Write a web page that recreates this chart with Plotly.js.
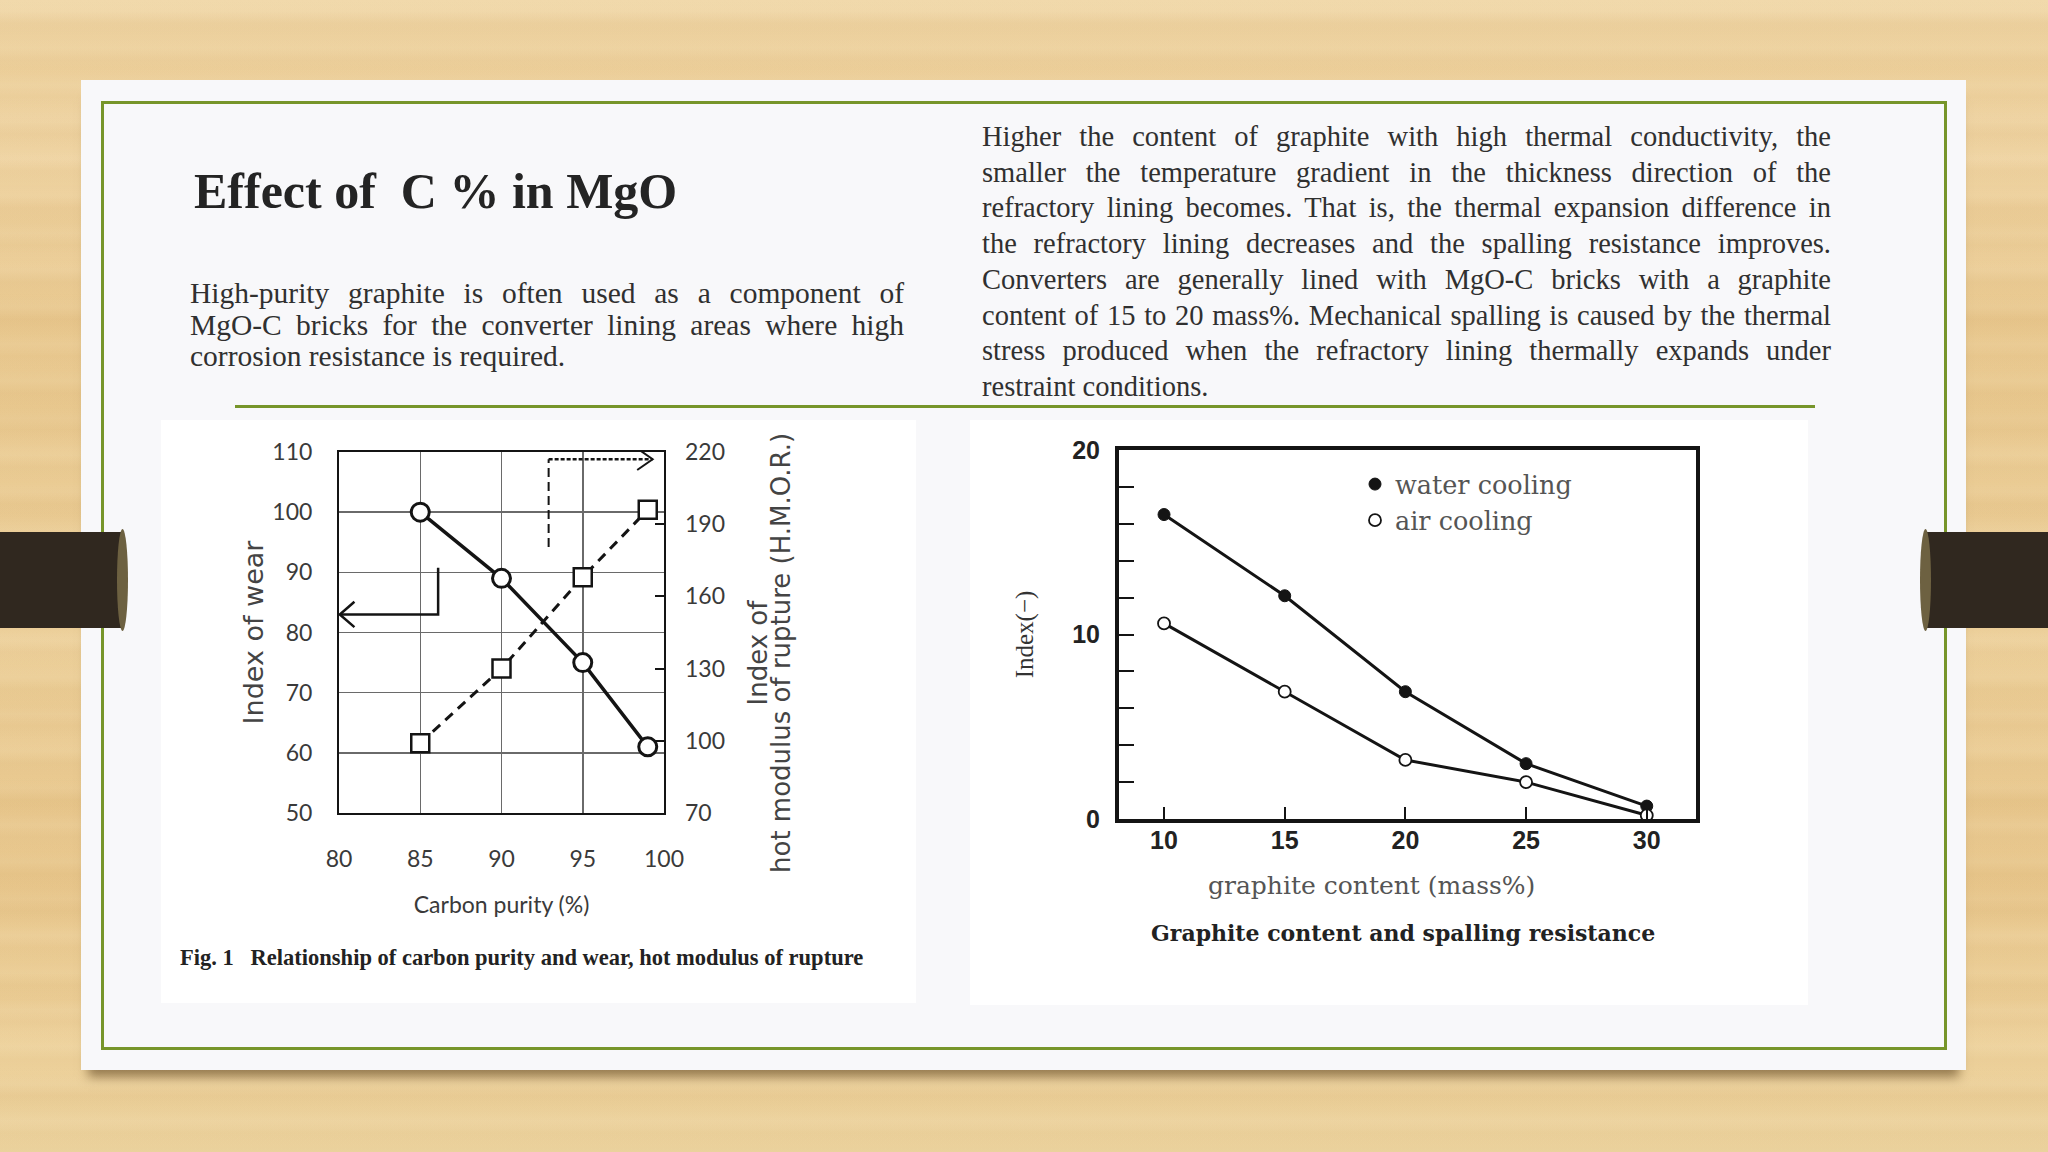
<!DOCTYPE html>
<html>
<head>
<meta charset="utf-8">
<script src="https://cdn.plot.ly/plotly-3.0.1.min.js"></script>
<style>
  html, body { margin:0; padding:0; }
  body {
    width:2048px; height:1152px; overflow:hidden; position:relative;
    background:
      repeating-linear-gradient(180deg, rgba(255,245,220,0.0) 0px, rgba(255,245,220,0.07) 11px, rgba(180,130,60,0.04) 23px, rgba(255,245,220,0.0) 37px),
      repeating-linear-gradient(180deg, rgba(200,150,80,0.0) 0px, rgba(200,150,80,0.05) 29px, rgba(255,240,210,0.05) 61px, rgba(200,150,80,0.0) 97px),
      linear-gradient(180deg, #f1d9ab 0%, #ebcd97 6%, #efd4a3 10%, #e8c78d 30%, #eccf99 55%, #e7c58a 75%, #edd19b 92%, #ead09a 100%);
    font-family: "Liberation Serif", "Times New Roman", serif;
  }
  .abs { position:absolute; }
  #card { left:81px; top:80px; width:1885px; height:990px; background:#f8f8fa;
          box-shadow: 0 14px 10px -7px rgba(80,55,20,0.55); }
  #frame { left:101px; top:101px; width:1846px; height:949px; box-sizing:border-box;
           border:3px solid #77952a; }
  #rule { left:235px; top:405px; width:1580px; height:3px; background:#77952a; }
  .imgbox { background:#ffffff; }
  .tab { background:#30281f; }
  .cap { background:#6d6141; border-radius:50%; }
  #title { left:194px; top:166px; font-size:50px; line-height:50px; font-weight:bold; color:#242424; white-space:nowrap; }
  #leftpara { left:190px; top:278px; width:714px; font-size:29.5px; line-height:31.7px; color:#303030; }
  #rightpara { left:982px; top:119px; width:849px; font-size:28.5px; line-height:35.7px; color:#303030; }
  .jl { text-align:justify; text-align-last:justify; }
  .ll { text-align:left; }
  #plot { left:0; top:0; width:2048px; height:1152px; }
</style>
</head>
<body>
<div id="card" class="abs"></div>
<div id="frame" class="abs"></div>
<div class="abs tab" style="left:0;top:532px;width:122px;height:96px;"></div>
<div class="abs cap" style="left:117px;top:529px;width:11px;height:102px;"></div>
<div class="abs tab" style="left:1926px;top:532px;width:122px;height:96px;"></div>
<div class="abs cap" style="left:1920px;top:529px;width:11px;height:102px;"></div>
<div id="rule" class="abs"></div>
<div class="abs imgbox" style="left:161px;top:420px;width:755px;height:583px;"></div>
<div class="abs imgbox" style="left:970px;top:420px;width:838px;height:585px;"></div>

<div id="title" class="abs">Effect of&nbsp; C % in MgO</div>
<div id="leftpara" class="abs">
  <div class="jl">High-purity graphite is often used as a component of</div>
  <div class="jl">MgO-C bricks for the converter lining areas where high</div>
  <div class="ll">corrosion resistance is required.</div>
</div>
<div id="rightpara" class="abs">
  <div class="jl">Higher the content of graphite with high thermal conductivity, the</div>
  <div class="jl">smaller the temperature gradient in the thickness direction of the</div>
  <div class="jl">refractory lining becomes. That is, the thermal expansion difference in</div>
  <div class="jl">the refractory lining decreases and the spalling resistance improves.</div>
  <div class="jl">Converters are generally lined with MgO-C bricks with a graphite</div>
  <div class="jl">content of 15 to 20 mass%. Mechanical spalling is caused by the thermal</div>
  <div class="jl">stress produced when the refractory lining thermally expands under</div>
  <div class="ll">restraint conditions.</div>
</div>

<div id="plot" class="abs"></div>

<script>
// ---- Fig. 1 : carbon purity vs wear / H.M.O.R. ----
const carbonPurity = [85, 90, 95, 99];
const wearIndex = [100, 89, 75, 61];
const hmorIndex = [99, 130, 168, 196];
const purityTicks = [80, 85, 90, 95, 100];
const wearTicks = [50, 60, 70, 80, 90, 100, 110];
const hmorTicks = [70, 100, 130, 160, 190, 220];
// guide arrows (data units): which axis each curve belongs to
const wearGuideX = [86.1, 86.1, 80.05];
const wearGuideY = [90.75, 83, 83];
const hmorGuideX = [92.9, 92.9, 99.3];
const hmorGuideY = [94.2, 108.8, 108.8];

// ---- Graphite content and spalling resistance ----
const graphiteContent = [10, 15, 20, 25, 30];
const waterCooling = [16.5, 12.1, 6.9, 3.0, 0.7];
const airCooling = [10.6, 6.9, 3.2, 2.0, 0.2];
const graphiteTicks = [10, 15, 20, 25, 30];
const indexTicks = [0, 2, 4, 6, 8, 10, 12, 14, 16, 18, 20];
const indexTickText = ['0', '', '', '', '', '10', '', '', '', '', '20'];

const W = 2048, H = 1152;
const px = v => v / W;
const py = v => 1 - v / H;

const ink = '#141414';

const traces = [
  {
    x: carbonPurity, y: wearIndex, xaxis: 'x', yaxis: 'y',
    type: 'scatter', mode: 'lines+markers', name: 'Index of wear', showlegend: false,
    line: { color: ink, width: 3.5 },
    marker: { symbol: 'circle', size: 18, color: '#ffffff', line: { color: ink, width: 3 } }
  },
  {
    x: carbonPurity, y: hmorIndex, xaxis: 'x', yaxis: 'y2',
    type: 'scatter', mode: 'lines+markers', name: 'H.M.O.R.', showlegend: false,
    line: { color: ink, width: 3, dash: '10px,7px' },
    marker: { symbol: 'square', size: 18, color: '#ffffff', line: { color: ink, width: 2.5 } }
  },
  {
    x: graphiteContent, y: waterCooling, xaxis: 'x3', yaxis: 'y3',
    type: 'scatter', mode: 'lines', name: 'water cooling', showlegend: false,
    line: { color: ink, width: 3 }
  },
  {
    x: graphiteContent, y: airCooling, xaxis: 'x3', yaxis: 'y3',
    type: 'scatter', mode: 'lines', name: 'air cooling', showlegend: false,
    line: { color: ink, width: 3 }
  },
  {
    x: graphiteContent, y: waterCooling, xaxis: 'x3', yaxis: 'y3',
    type: 'scatter', mode: 'markers', name: 'water cooling', showlegend: true,
    marker: { symbol: 'circle', size: 12, color: ink, line: { color: ink, width: 1 } }
  },
  {
    x: graphiteContent, y: airCooling, xaxis: 'x3', yaxis: 'y3',
    type: 'scatter', mode: 'markers', name: 'air cooling', showlegend: true,
    marker: { symbol: 'circle', size: 12, color: '#ffffff', line: { color: ink, width: 1.8 } }
  }
];

function pathFrom(xs, ys) {
  return xs.map((x, i) => (i ? 'L' : 'M') + x + ',' + ys[i]).join(' ');
}

const shapes = [
  { type: 'path', xref: 'x', yref: 'y', path: pathFrom(wearGuideX, wearGuideY),
    line: { color: ink, width: 2.5 } },
  { type: 'path', xref: 'x', yref: 'y',
    path: pathFrom([wearGuideX[2] + 0.9, wearGuideX[2], wearGuideX[2] + 0.9],
                   [wearGuideY[2] + 2.1, wearGuideY[2], wearGuideY[2] - 2.1]),
    line: { color: ink, width: 2.5 } },
  { type: 'path', xref: 'x', yref: 'y', path: pathFrom(hmorGuideX.slice(0, 2), hmorGuideY.slice(0, 2)),
    line: { color: ink, width: 2, dash: '9px,5px' } },
  { type: 'path', xref: 'x', yref: 'y', path: pathFrom(hmorGuideX.slice(1), hmorGuideY.slice(1)),
    line: { color: ink, width: 2.5, dash: '4px,2px' } },
  { type: 'path', xref: 'x', yref: 'y',
    path: pathFrom([hmorGuideX[2] - 0.95, hmorGuideX[2], hmorGuideX[2] - 0.95],
                   [hmorGuideY[2] + 1.8, hmorGuideY[2], hmorGuideY[2] - 1.8]),
    line: { color: ink, width: 2 } }
];

const tickGray = '#3a3a3a';
const sansTitle = { family: '"DejaVu Sans", sans-serif', size: 26, color: '#444444' };

const layout = {
  width: W, height: H,
  margin: { l: 0, r: 0, t: 0, b: 0, pad: 0 },
  paper_bgcolor: 'rgba(0,0,0,0)',
  plot_bgcolor: 'rgba(0,0,0,0)',
  showlegend: true,
  xaxis: {
    domain: [px(339), px(664)], anchor: 'y', range: [80, 100],
    tickmode: 'array', tickvals: purityTicks, ticks: '',
    showgrid: true, gridcolor: '#6a6a6a', gridwidth: 1.5, zeroline: false,
    showline: true, linecolor: ink, linewidth: 2, mirror: true,
    tickfont: { family: 'Lato, "Open Sans", sans-serif', size: 23, color: tickGray },
    ticklabelstandoff: 24, automargin: false,
    title: { text: 'Carbon purity (%)', standoff: 26,
             font: { family: 'Lato, "Open Sans", sans-serif', size: 23, color: tickGray } }
  },
  yaxis: {
    domain: [py(813), py(452)], anchor: 'x', range: [50, 110],
    tickmode: 'array', tickvals: wearTicks, ticks: '',
    showgrid: true, gridcolor: '#6a6a6a', gridwidth: 1.5, zeroline: false,
    showline: true, linecolor: ink, linewidth: 2, mirror: true,
    tickfont: { family: 'Lato, "Open Sans", sans-serif', size: 23, color: tickGray },
    ticklabelstandoff: 20, automargin: false,
    title: { text: 'Index of wear', standoff: 1,
             font: { family: '"DejaVu Sans", sans-serif', size: 27, color: '#444444' } }
  },
  yaxis2: {
    overlaying: 'y', side: 'right', anchor: 'x', range: [70, 220],
    tickmode: 'array', tickvals: hmorTicks, ticks: 'inside', ticklen: 9, tickwidth: 2, tickcolor: ink,
    showgrid: false, zeroline: false, showline: false,
    tickfont: { family: 'Lato, "Open Sans", sans-serif', size: 23, color: tickGray },
    ticklabelstandoff: 20, automargin: false
  },
  xaxis3: {
    domain: [px(1119), px(1696)], anchor: 'y3', range: [8.135, 32.04],
    tickmode: 'array', tickvals: graphiteTicks, ticks: 'inside', ticklen: 12, tickwidth: 2, tickcolor: ink,
    showgrid: false, zeroline: false,
    showline: true, linecolor: ink, linewidth: 4, mirror: true,
    tickfont: { family: '"Liberation Sans", Arial, sans-serif', size: 25, color: '#222222', weight: 'bold' },
    ticklabelstandoff: -4, automargin: false
  },
  yaxis3: {
    domain: [py(819), py(450)], anchor: 'x3', range: [0, 20],
    tickmode: 'array', tickvals: indexTicks, ticktext: indexTickText,
    ticks: 'inside', ticklen: 15, tickwidth: 2, tickcolor: ink,
    showgrid: false, zeroline: false,
    showline: true, linecolor: ink, linewidth: 4, mirror: true,
    tickfont: { family: '"Liberation Sans", Arial, sans-serif', size: 25, color: '#222222', weight: 'bold' },
    ticklabelstandoff: 10, automargin: false,
    title: { text: 'Index(−)', standoff: 32,
             font: { family: '"Liberation Serif", serif', size: 25, color: '#333333' } }
  },
  legend: {
    x: px(1355), y: py(461), xanchor: 'left', yanchor: 'top',
    bgcolor: 'rgba(0,0,0,0)', borderwidth: 0, tracegroupgap: 0,
    font: { family: '"DejaVu Serif", serif', size: 25.5, color: '#555555' }
  },
  shapes: shapes,
  annotations: [
    { xref: 'paper', yref: 'paper', x: px(757.5), y: py(653), xanchor: 'center', yanchor: 'middle',
      textangle: -90, showarrow: false, text: 'Index of', font: sansTitle },
    { xref: 'paper', yref: 'paper', x: px(781), y: py(653), xanchor: 'center', yanchor: 'middle',
      textangle: -90, showarrow: false, text: 'hot modulus of rupture (H.M.O.R.)', font: sansTitle },
    { xref: 'paper', yref: 'paper', x: px(1371), y: py(885.5), xanchor: 'center', yanchor: 'middle',
      showarrow: false, text: 'graphite content (mass%)',
      font: { family: '"DejaVu Serif", serif', size: 25, color: '#555555' } },
    { xref: 'paper', yref: 'paper', x: px(178), y: py(957), xanchor: 'left', yanchor: 'middle',
      showarrow: false, text: 'Fig. 1\u00a0\u00a0\u00a0Relationship of carbon purity and wear, hot modulus of rupture',
      font: { family: '"Liberation Serif", serif', size: 22.5, color: '#222222', weight: 'bold' } },
    { xref: 'paper', yref: 'paper', x: px(1403), y: py(932.5), xanchor: 'center', yanchor: 'middle',
      showarrow: false, text: 'Graphite content and spalling resistance',
      font: { family: '"DejaVu Serif", serif', size: 22, color: '#222222', weight: 'bold' } }
  ]
};

Plotly.newPlot('plot', traces, layout, { displayModeBar: false, staticPlot: true });
</script>
</body>
</html>
